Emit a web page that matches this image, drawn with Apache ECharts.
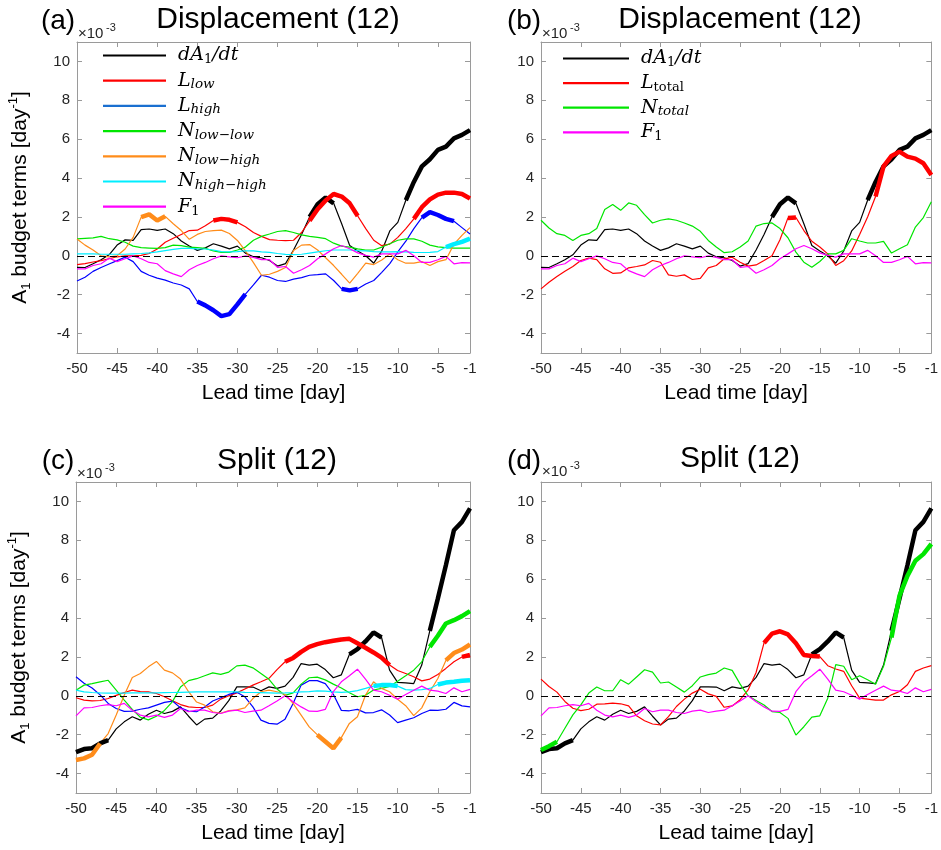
<!DOCTYPE html>
<html><head><meta charset="utf-8">
<script src="https://cdn.jsdelivr.net/npm/echarts@6/dist/echarts.min.js"></script>
<style>html,body{margin:0;padding:0;background:#fff}#c{width:941px;height:850px}</style>
</head><body><div id="c"></div>
<script>
// ---------------- DATA ----------------
const days = [-50,-49,-48,-47,-46,-45,-44,-43,-42,-41,-40,-39,-38,-37,-36,-35,-34,-33,-32,-31,
  -30,-29,-28,-27,-26,-25,-24,-23,-22,-21,-20,-19,-18,-17,-16,-15,-14,-13,-12,-11,
  -10,-9,-8,-7,-6,-5,-4,-3,-2,-1];
const xTickValues = [-50,-45,-40,-35,-30,-25,-20,-15,-10,-5,-1];
const yTickValues = [-4,-2,0,2,4,6,8,10];

// Displacement composite
const dispDadt = [-0.59,-0.60,-0.41,-0.20,0.05,0.55,0.82,0.79,1.35,1.38,
  1.31,1.38,1.14,0.76,0.50,0.28,0.41,0.62,0.50,0.36,
  0.50,0.14,-0.05,-0.10,-0.24,-0.53,-0.40,0.30,1.10,2.00,
  2.65,3.00,2.70,1.65,0.53,0.25,0.00,-0.38,0.25,1.28,
  1.72,2.86,3.80,4.60,4.97,5.45,5.62,6.04,6.22,6.47];
const dispLlow = [-0.45,-0.40,-0.32,-0.25,-0.15,-0.05,0.00,0.00,0.02,0.12,
  0.35,0.70,0.90,1.10,1.30,1.32,1.55,1.82,1.90,1.85,
  1.72,1.50,1.20,1.00,0.83,0.80,0.78,0.80,1.20,1.80,
  2.40,2.85,3.18,3.05,2.70,2.05,1.40,0.80,0.52,0.60,
  0.95,1.40,1.90,2.50,2.90,3.15,3.25,3.25,3.18,2.95];
const dispLhigh = [-1.30,-1.10,-0.80,-0.60,-0.42,-0.25,-0.07,-0.30,-0.80,-1.00,
  -1.15,-1.25,-1.40,-1.50,-1.70,-2.35,-2.55,-2.80,-3.10,-3.00,
  -2.50,-1.97,-1.50,-1.00,-1.10,-1.27,-1.32,-1.20,-1.12,-1.00,
  -0.97,-0.93,-1.27,-1.70,-1.78,-1.70,-1.45,-1.27,-0.85,-0.40,
  0.20,0.75,1.40,1.96,2.25,2.10,1.90,1.78,1.45,1.12];
const dispNll = [0.87,0.90,0.92,1.00,0.88,0.82,0.70,0.50,0.42,0.40,
  0.38,0.42,0.55,0.52,0.45,0.42,0.38,0.25,0.18,0.18,
  0.30,0.45,0.80,1.00,1.12,1.25,1.30,1.20,1.08,1.00,
  0.95,0.88,0.65,0.50,0.45,0.36,0.30,0.30,0.45,0.62,
  0.80,0.87,0.87,0.75,0.55,0.46,0.42,0.40,0.40,0.40];
const dispNlh = [0.87,0.55,0.30,0.00,-0.05,0.00,0.35,0.95,1.99,2.13,
  1.82,2.03,1.65,1.30,0.85,1.10,1.25,1.30,1.32,1.15,
  0.79,0.25,-0.35,-1.00,-0.95,-0.80,-0.60,0.27,0.55,0.58,
  0.30,-0.10,-0.50,-0.95,-1.41,-0.90,-0.38,-0.45,-0.22,0.10,
  -0.20,-0.38,-0.38,-0.30,-0.50,-0.30,-0.20,0.60,1.05,1.45];
const dispNhh = [0.10,0.10,0.10,0.08,0.08,0.08,0.08,0.10,0.12,0.15,
  0.20,0.27,0.33,0.38,0.38,0.36,0.35,0.30,0.22,0.20,
  0.22,0.26,0.25,0.20,0.18,0.12,0.07,0.06,0.08,0.14,
  0.20,0.26,0.30,0.30,0.30,0.27,0.25,0.22,0.20,0.20,
  0.22,0.20,0.18,0.17,0.18,0.22,0.45,0.60,0.72,0.88];
const dispF1 = [-0.67,-0.67,-0.50,-0.41,-0.12,-0.30,-0.15,0.00,-0.15,-0.34,
  -0.41,-0.76,-0.93,-1.07,-0.72,-0.50,-0.34,-0.15,0.00,-0.05,
  -0.10,0.00,-0.08,-0.20,-0.20,-0.59,-0.55,-0.90,-0.72,-0.50,
  -0.15,0.10,0.36,0.53,0.36,0.15,0.02,-0.07,0.10,0.10,
  0.10,0.28,0.00,-0.34,-0.34,-0.20,-0.03,-0.41,-0.35,-0.36];
const dispLtot = [-1.70,-1.36,-1.07,-0.80,-0.55,-0.24,-0.12,-0.20,-0.67,-0.90,
  -0.88,-0.62,-0.55,-0.47,-0.24,-0.33,-0.98,-1.05,-0.98,-1.22,
  -1.16,-0.62,-0.50,-0.15,-0.07,-0.33,-0.53,-0.47,-0.24,0.00,
  0.83,1.95,1.97,1.30,0.75,0.45,0.10,-0.50,-0.25,0.25,
  1.10,2.00,3.05,4.60,5.14,5.36,5.10,5.00,4.76,4.16];
const dispNtot = [1.83,1.43,1.14,1.05,0.79,1.05,1.14,1.40,2.38,2.64,
  2.34,2.72,2.60,2.12,1.69,1.83,1.90,1.83,1.69,1.53,
  1.26,0.79,0.45,0.16,0.21,0.45,0.76,1.53,1.66,1.69,
  1.40,0.93,0.19,-0.33,-0.59,-0.29,0.10,0.10,0.28,0.88,
  0.76,0.66,0.66,0.74,0.14,0.36,0.57,1.48,1.97,2.78];

// Split composite
const splitDadt = [-2.90,-2.74,-2.70,-2.45,-2.28,-1.70,-1.34,-1.08,-1.25,-0.95,
  -0.74,-0.91,-0.80,-0.57,-1.05,-1.50,-1.20,-1.15,-0.78,-0.25,
  0.46,0.46,0.45,0.26,0.46,0.38,0.50,0.95,1.66,1.58,
  1.63,1.35,0.93,1.08,2.13,2.40,2.80,3.26,3.00,1.32,
  0.69,0.67,0.63,1.58,3.34,5.00,6.72,8.52,8.95,9.64];
const splitLlow = [-0.10,-0.22,-0.26,-0.24,-0.14,0.02,0.17,0.29,0.22,0.20,
  0.12,-0.05,-0.25,-0.45,-0.57,-0.60,-0.60,-0.48,-0.17,0.00,
  0.15,0.35,0.55,0.72,0.90,1.35,1.75,1.95,2.26,2.52,
  2.66,2.76,2.83,2.90,2.93,2.70,2.47,2.23,1.96,1.58,
  1.30,1.15,0.98,0.77,0.86,1.10,1.41,1.75,2.00,2.10];
const splitLhigh = [0.98,0.65,0.40,0.05,-0.39,-0.65,-0.80,-0.79,-0.69,-0.62,
  -0.48,-0.34,-0.27,-0.62,-0.79,-0.82,-0.57,-0.27,-0.10,0.07,
  0.18,-0.05,-0.57,-1.25,-1.42,-1.46,-1.20,-0.40,0.55,0.78,
  0.78,0.63,0.08,-0.75,-0.77,-0.70,-0.88,-0.86,-0.72,-0.99,
  -1.38,-1.25,-1.13,-0.91,-0.74,-0.75,-0.69,-0.34,-0.52,-0.57];
const splitNll = [0.29,0.55,0.63,0.72,0.80,0.29,-0.22,-0.70,-1.10,-1.24,
  -1.05,-0.75,-0.30,0.45,0.78,0.88,1.03,1.18,1.10,1.22,
  1.54,1.58,1.44,1.15,0.85,0.35,0.02,0.15,0.60,0.93,
  0.96,0.82,0.60,0.40,0.16,-0.05,0.03,0.30,0.38,0.48,
  0.75,1.03,1.32,1.75,2.52,3.09,3.72,3.89,4.10,4.36];
const splitNlh = [-3.30,-3.22,-3.03,-2.45,-1.94,-0.99,0.03,0.94,1.15,1.49,
  1.77,1.32,1.18,0.86,0.21,-0.32,-0.48,-0.82,-0.90,-0.76,
  -0.72,-0.62,-0.14,0.21,0.29,0.21,0.07,-0.39,-0.99,-1.60,
  -2.00,-2.35,-2.70,-2.15,-1.42,-1.08,0.03,0.72,0.38,0.21,
  -0.18,-0.51,-1.02,-0.62,0.21,0.89,1.82,2.20,2.38,2.64];
const splitNhh = [0.29,0.20,0.17,0.15,0.14,0.14,0.14,0.15,0.15,0.15,
  0.15,0.16,0.17,0.18,0.19,0.20,0.20,0.20,0.20,0.20,
  0.20,0.18,0.17,0.16,0.15,0.14,0.15,0.17,0.20,0.22,
  0.25,0.24,0.20,0.18,0.20,0.27,0.38,0.50,0.55,0.56,
  0.50,0.32,0.29,0.32,0.38,0.58,0.68,0.72,0.77,0.80];
const splitF1 = [-1.03,-0.62,-0.60,-0.51,-0.45,-0.51,-0.39,-0.74,-0.99,-1.08,
  -0.99,-1.11,-0.99,-0.65,-0.82,-0.74,-0.74,-0.86,-0.91,-0.79,
  -0.74,-0.86,-0.79,-0.74,-0.51,-0.27,0.00,-0.31,-0.57,-0.79,
  -0.80,-0.70,0.21,0.72,1.03,1.37,0.86,0.29,0.21,0.03,
  -0.17,0.07,0.29,0.50,0.29,0.24,0.12,0.41,0.21,0.33];
const splitLtot = [0.86,0.48,0.19,-0.29,-0.64,-0.76,-0.69,-0.43,-0.41,-0.38,
  -0.41,-0.52,-1.03,-1.28,-1.45,-1.50,-1.07,-0.55,-0.17,0.14,
  0.34,0.10,-0.03,-0.59,-0.52,-0.20,0.30,1.20,2.72,3.20,
  3.32,3.16,2.70,2.10,2.05,2.02,1.55,1.38,1.26,0.52,
  -0.12,-0.17,-0.22,-0.22,0.05,0.22,0.57,1.26,1.43,1.55];
const splitNtot = [-2.79,-2.59,-2.36,-1.67,-0.98,-0.47,0.14,0.45,0.26,0.26,
  0.83,0.60,0.97,1.34,1.22,0.66,0.71,0.45,0.19,0.52,
  0.97,1.09,1.17,1.43,1.31,0.60,0.00,-0.24,-0.47,-0.81,
  -0.86,-1.16,-2.02,-1.59,-1.10,-1.03,-0.12,1.60,1.52,0.83,
  1.03,0.83,0.60,1.52,3.00,5.14,6.17,6.95,7.29,7.81];

// Significant (thick) day ranges [from, to]
const sigDispDadt = [[-21,-18],[-9,-1]];
const sigDispLlow = [[-33,-30],[-21,-15],[-8,-1]];
const sigDispLhigh = [[-35,-29],[-17,-15],[-7,-3]];
const sigDispNlh = [[-42,-39]];
const sigDispNhh = [[-4,-1]];
const sigDispLtot = [[-19,-18],[-8,-1]];
const sigSplitDadt = [[-50,-46],[-16,-12],[-6,-1]];
const sigSplitLlow = [[-24,-11],[-2,-1]];
const sigSplitNll = [[-6,-1]];
const sigSplitNlh = [[-50,-47],[-20,-17],[-4,-1]];
const sigSplitNhh = [[-13,-10],[-5,-1]];
const sigSplitLtot = [[-22,-15]];
const sigSplitNtot = [[-50,-48],[-6,-1]];

// ---------------- CHART ----------------
const C = {black:'#000000', red:'#ff0000', blue:'#0000ff', green:'#00e600',
  orange:'#ff8c1a', cyan:'#00eeff', magenta:'#ff00ff'};
const FONT = '"Liberation Sans", Arial, Helvetica, sans-serif';
const MATH = '"DejaVu Serif", serif';

const panels = [
  {grid:{left:77, top:42, width:393, height:311}, xname:'Lead time [day]', yname:true,
   series:[
    ['a_dadt', dispDadt, C.black, sigDispDadt],
    ['a_llow', dispLlow, C.red, sigDispLlow],
    ['a_lhigh', dispLhigh, C.blue, sigDispLhigh],
    ['a_nll', dispNll, C.green, null],
    ['a_nlh', dispNlh, C.orange, sigDispNlh],
    ['a_nhh', dispNhh, C.cyan, sigDispNhh],
    ['a_f1', dispF1, C.magenta, null]]},
  {grid:{left:541, top:42, width:392, height:311}, xname:'Lead time [day]', yname:false,
   series:[
    ['b_dadt', dispDadt, C.black, sigDispDadt],
    ['b_ltot', dispLtot, C.red, sigDispLtot],
    ['b_ntot', dispNtot, C.green, null],
    ['b_f1', dispF1, C.magenta, null]]},
  {grid:{left:76, top:482, width:394, height:311}, xname:'Lead time [day]', yname:true,
   series:[
    ['c_dadt', splitDadt, C.black, sigSplitDadt],
    ['c_llow', splitLlow, C.red, sigSplitLlow],
    ['c_lhigh', splitLhigh, C.blue, null],
    ['c_nll', splitNll, C.green, sigSplitNll],
    ['c_nlh', splitNlh, C.orange, sigSplitNlh],
    ['c_nhh', splitNhh, C.cyan, sigSplitNhh],
    ['c_f1', splitF1, C.magenta, null]]},
  {grid:{left:541, top:482, width:392, height:311}, xname:'Lead taime [day]', yname:false,
   series:[
    ['d_dadt', splitDadt, C.black, sigSplitDadt],
    ['d_ltot', splitLtot, C.red, sigSplitLtot],
    ['d_ntot', splitNtot, C.green, sigSplitNtot],
    ['d_f1', splitF1, C.magenta, null]]}
];

const legendText = {
  a_dadt:'{i|dA}{s|1}{i|/dt}', a_llow:'{i|L}{si|low}', a_lhigh:'{i|L}{si|high}',
  a_nll:'{i|N}{si|low−low}', a_nlh:'{i|N}{si|low−high}', a_nhh:'{i|N}{si|high−high}', a_f1:'{i|F}{s|1}',
  b_dadt:'{i|dA}{s|1}{i|/dt}', b_ltot:'{i|L}{s|total}', b_ntot:'{i|N}{si|total}', b_f1:'{i|F}{s|1}'
};
const legendRich = {
  i:{fontFamily:MATH, fontStyle:'italic', fontSize:19, lineHeight:22, color:'#000'},
  s:{fontFamily:MATH, fontSize:13, lineHeight:12, verticalAlign:'bottom', color:'#000'},
  si:{fontFamily:MATH, fontStyle:'italic', fontSize:13.5, lineHeight:12, verticalAlign:'bottom', color:'#000'}
};

const BOX = '#9a9a9a';
const grids = [], xAxes = [], yAxes = [], series = [];
panels.forEach((p, gi) => {
  grids.push(Object.assign({containLabel:false}, p.grid));
  const common = {gridIndex:gi, type:'value', min:-50, max:-1, splitLine:{show:false},
    axisLine:{show:true, onZero:false, lineStyle:{color:BOX, width:1}},
    axisTick:{show:true, inside:true, length:5, customValues:xTickValues, lineStyle:{color:BOX}}};
  xAxes.push(Object.assign({}, common, {position:'bottom',
    axisLabel:{show:true, customValues:xTickValues, color:'#262626', fontSize:15, fontFamily:FONT, margin:8},
    name:p.xname, nameLocation:'middle', nameGap:30,
    nameTextStyle:{fontSize:21, fontFamily:FONT, color:'#000'}}));
  xAxes.push(Object.assign({}, common, {position:'top', axisLabel:{show:false}}));
  const ycommon = {gridIndex:gi, type:'value', min:-5, max:11, splitLine:{show:false},
    axisLine:{show:true, onZero:false, lineStyle:{color:BOX, width:1}},
    axisTick:{show:true, inside:true, length:5, customValues:yTickValues, lineStyle:{color:BOX}}};
  const yl = Object.assign({}, ycommon, {position:'left',
    axisLabel:{show:true, customValues:yTickValues, color:'#262626', fontSize:15, fontFamily:FONT, margin:7}});
  if (p.yname) {
    yl.name = '{n|A}{sub|1}{n| budget terms [day}{sup|-1}{n|]}';
    yl.nameLocation = 'middle';
    yl.nameGap = 44;
    yl.nameTextStyle = {fontSize:21, fontFamily:FONT, color:'#000',
      rich:{n:{fontSize:21, fontFamily:FONT, lineHeight:26, color:'#000'},
            sub:{fontSize:13, fontFamily:FONT, lineHeight:12, verticalAlign:'bottom', color:'#000'},
            sup:{fontSize:13, fontFamily:FONT, lineHeight:12, verticalAlign:'top', color:'#000'}}};
  }
  yAxes.push(yl);
  yAxes.push(Object.assign({}, ycommon, {position:'right', axisLabel:{show:false}}));

  p.series.forEach((s, si) => {
    const [name, vals, color, sig] = s;
    const thin = {type:'line', name:name, xAxisIndex:2*gi, yAxisIndex:2*gi,
      data: days.map((d, k) => [d, vals[k]]), symbol:'none', showSymbol:false,
      lineStyle:{color:color, width:1.2}, itemStyle:{color:color}, z:2, silent:true, animation:false};
    if (si === 0) {
      thin.markLine = {silent:true, symbol:'none', animation:false, label:{show:false},
        lineStyle:{color:'#000', type:[7,4], width:1.2}, data:[{yAxis:0}]};
    }
    series.push(thin);
    if (sig) {
      const inSig = d => sig.some(r => d >= r[0] && d <= r[1]);
      series.push({type:'line', name:name + '_sig', xAxisIndex:2*gi, yAxisIndex:2*gi,
        data: days.map((d, k) => inSig(d) ? [d, vals[k]] : [d, '-']), symbol:'none', showSymbol:false,
        connectNulls:false, lineStyle:{color:color, width:4.5}, itemStyle:{color:color}, z:3,
        silent:true, animation:false});
    }
  });
});

function legendFor(names, left, top, width, gap) {
  return {orient:'vertical', left:left, top:top, padding:0, itemWidth:width, itemHeight:2.2,
    itemGap:gap, icon:'rect', selectedMode:false,
    data: names.map(n => n === 'a_lhigh' ? {name:n, itemStyle:{color:'#1a6fd0'}} : {name:n}),
    formatter: n => legendText[n],
    textStyle:{padding:[0,0,0,7], rich:legendRich}};
}

function txt(x, y, text, size, color, align) {
  return {type:'text', x:x, y:y, silent:true,
    style:{text:text, font:size + 'px ' + FONT, fill:color || '#000',
      textAlign:align || 'center', textVerticalAlign:'middle', verticalAlign:'middle'}};
}
const graphics = [
  txt(58, 21, '(a)', 28), txt(278, 20, 'Displacement (12)', 30),
  txt(78, 34, '×10', 15, '#262626', 'left'), txt(106, 28, '-3', 11, '#262626', 'left'),
  txt(524, 21, '(b)', 28), txt(740, 20, 'Displacement (12)', 30),
  txt(542, 34, '×10', 15, '#262626', 'left'), txt(570, 28, '-3', 11, '#262626', 'left'),
  txt(58, 461, '(c)', 28), txt(277, 461, 'Split (12)', 30),
  txt(77, 474, '×10', 15, '#262626', 'left'), txt(105, 468, '-3', 11, '#262626', 'left'),
  txt(524, 461, '(d)', 28), txt(740, 459, 'Split (12)', 30),
  txt(542, 472, '×10', 15, '#262626', 'left'), txt(570, 466, '-3', 11, '#262626', 'left')
];

const chart = echarts.init(document.getElementById('c'), null, {renderer:'canvas'});
chart.setOption({
  animation:false,
  backgroundColor:'#ffffff',
  grid: grids,
  xAxis: xAxes,
  yAxis: yAxes,
  legend: [
    legendFor(['a_dadt','a_llow','a_lhigh','a_nll','a_nlh','a_nhh','a_f1'], 103, 46, 63, 4.7),
    legendFor(['b_dadt','b_ltot','b_ntot','b_f1'], 563, 49, 66, 4.1)
  ],
  graphic: graphics,
  series: series
});
</script>
</body></html>
